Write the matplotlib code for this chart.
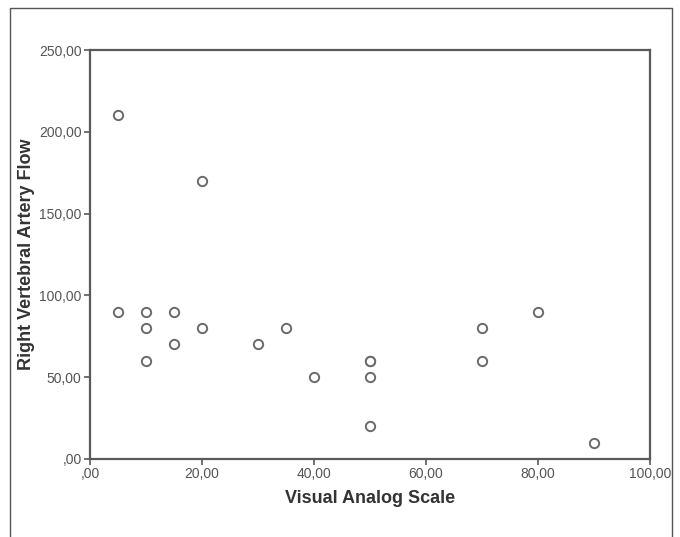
import matplotlib.pyplot as plt
from matplotlib.lines import Line2D
from matplotlib.ticker import FuncFormatter

plt.rcParams['font.family'] = ['Liberation Sans', 'DejaVu Sans']

# Visual Analog Scale vs Right Vertebral Artery Flow
vas = [5, 5, 10, 10, 10, 15, 15, 20, 20, 30, 35, 40, 50, 50, 50, 50, 70, 70, 80, 90]
flow = [210, 90, 90, 80, 60, 90, 70, 170, 80, 70, 80, 50, 60, 60, 50, 20, 80, 60, 90, 10]

x_ticks = [0, 20, 40, 60, 80, 100]
y_ticks = [0, 50, 100, 150, 200, 250]


def comma_fmt(v, pos):
    s = "%.2f" % v
    if s.startswith("0"):
        s = s[1:]
    return s.replace(".", ",")


fig = plt.figure(figsize=(6.8, 5.37), dpi=100)
ax = fig.add_axes([90 / 680, 1 - 459 / 537, 560 / 680, 409 / 537])

ax.scatter(vas, flow, s=45, facecolors='white', edgecolors='#6a6a6a', linewidths=1.4, zorder=3)

ax.set_xlim(0, 100)
ax.set_ylim(0, 250)
ax.set_xticks(x_ticks)
ax.set_yticks(y_ticks)
ax.xaxis.set_major_formatter(FuncFormatter(comma_fmt))
ax.yaxis.set_major_formatter(FuncFormatter(comma_fmt))

for sp in ax.spines.values():
    sp.set_color('#5a5a5a')
    sp.set_linewidth(1.6)
ax.tick_params(direction='out', length=4, width=1.2, color='#5a5a5a',
               labelsize=10, labelcolor='#555555', pad=2)

ax.set_xlabel("Visual Analog Scale", fontsize=13, fontweight='bold', color='#333333', labelpad=6)
ax.set_ylabel("Right Vertebral Artery Flow", fontsize=13, fontweight='bold', color='#333333', labelpad=3)

# outer frame around the figure (no bottom edge)
fx0, fx1, fy1 = 10 / 680, 672 / 680, 1 - 8 / 537
fig.add_artist(Line2D([fx0, fx0, fx1, fx1], [0, fy1, fy1, 0], transform=fig.transFigure,
                      color='#555555', linewidth=1.0))

fig.savefig("out.png", dpi=100)
